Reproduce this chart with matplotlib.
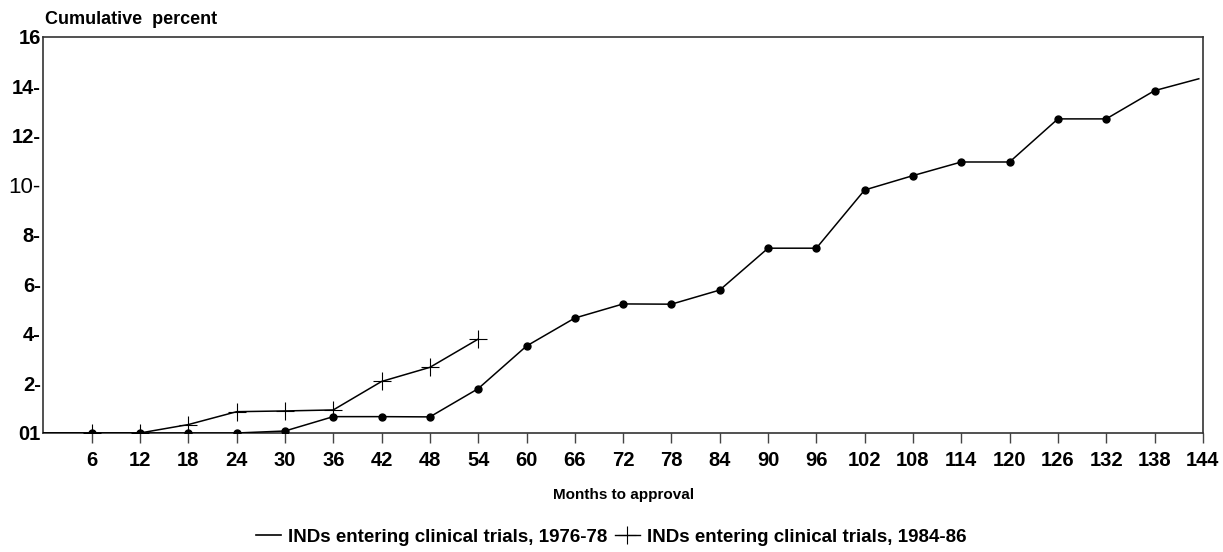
import matplotlib
matplotlib.use("Agg")
import matplotlib.pyplot as plt
from matplotlib.lines import Line2D

plt.rcParams['font.family'] = ['Liberation Sans', 'DejaVu Sans']
plt.rcParams['font.weight'] = 'bold'

# cumulative percent approved, by months since entering clinical trials
months_7678 = [0, 6, 12, 18, 24, 30, 36, 42, 48, 54, 60, 66, 72, 78, 84, 90,
               96, 102, 108, 114, 120, 126, 132, 138, 143.5]
pct_7678 = [0, 0, 0, 0, 0, 0.08, 0.66, 0.66, 0.65, 1.79, 3.51, 4.64, 5.21,
            5.20, 5.77, 7.46, 7.46, 9.81, 10.39, 10.94, 10.94, 12.68, 12.68,
            13.82, 14.3]

months_8486 = [0, 6, 12, 18, 24, 30, 36, 42, 48, 54]
pct_8486 = [0, 0, 0, 0.34, 0.86, 0.89, 0.93, 2.08, 2.65, 3.79]

xticks = list(range(6, 145, 6))
yticks = [0, 2, 4, 6, 8, 10, 12, 14, 16]
ytick_labels = ['01', '2-', '4-', '6-', '8-', '10-', '12-', '14-', '16']

fig = plt.figure(figsize=(12.23, 5.52), dpi=100)
ax = fig.add_axes([0.0355, 0.2156, 0.948, 0.718])

ax.plot(months_7678, pct_7678, color='black', lw=1.1, marker='o', ms=5,
        markevery=slice(1, -1), zorder=3)
ax.plot(months_8486, pct_8486, color='black', lw=1.1, marker='+', ms=13,
        mew=0.8, markevery=slice(1, None), zorder=3)

ax.set_xlim(0, 144)
ax.set_ylim(0, 16)
for s in ax.spines.values():
    s.set_color('#333333')
    s.set_linewidth(1.2)

ax.set_xticks(xticks)
ax.set_xticklabels([str(t) for t in xticks], fontsize=14.5, fontweight='bold')
ax.tick_params(axis='x', length=7, width=1, color='#444444', pad=6)

ax.set_yticks(yticks)
ax.set_yticklabels(ytick_labels, fontsize=14.5, fontweight='bold')
ax.tick_params(axis='y', length=0, pad=2)
for lab in ax.get_yticklabels():
    if lab.get_text() == '10-':
        lab.set_fontweight('normal')
        lab.set_fontsize(16)

ax.set_xlabel('Months to approval', fontsize=11, fontweight='bold', labelpad=13)
fig.text(0.037, 0.965, 'Cumulative  percent', fontsize=13, fontweight='bold',
         ha='left', va='center')

handles = [Line2D([], [], color='black', lw=1.2),
           Line2D([], [], color='black', lw=1.0, marker='+', ms=13, mew=0.8)]
fig.legend(handles, ['INDs entering clinical trials, 1976-78',
                     'INDs entering clinical trials, 1984-86'],
           loc='center', bbox_to_anchor=(0.5, 0.027), ncol=2, frameon=False,
           handlelength=1.3, handletextpad=0.4, columnspacing=0.4,
           prop={'weight': 'bold', 'size': 13.5})

fig.savefig('out.png', dpi=100)
